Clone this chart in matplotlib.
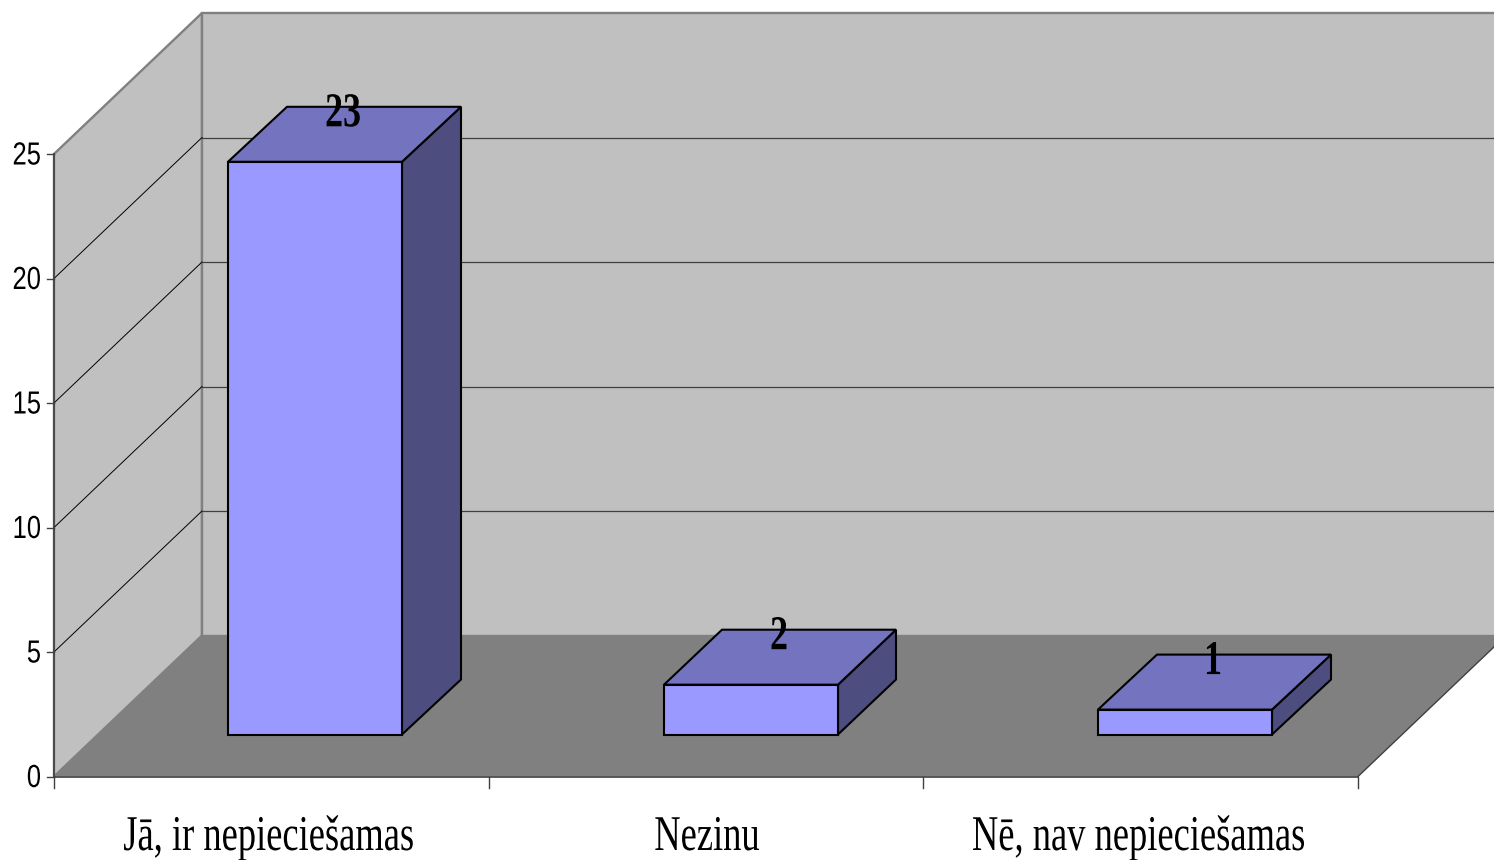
import matplotlib
matplotlib.use('Agg')
import matplotlib.pyplot as plt
from matplotlib.patches import Polygon
from matplotlib.patheffects import AbstractPathEffect
from matplotlib.transforms import Affine2D

categories = ['Jā, ir nepieciešamas', 'Nezinu', 'Nē, nav nepieciešamas']
values = [23, 2, 1]
y_ticks = [0, 5, 10, 15, 20, 25]

W, H = 1494, 860
X0, X1 = 54, 1358      # front edge of the floor
Y0 = 776.5             # value 0 at the front
UNIT = 24.9            # pixels per value unit
DX, DY = 148, 141      # depth of the box
BAR_W = 174
BAR_DX = [59, 58, 59]
BAR_DY = 55
BAR_LEFT = [228, 664, 1098]
BAR_BASE = 734.5


class Squeeze(AbstractPathEffect):
    # the reference text is condensed, squeeze glyphs around a centre x
    def __init__(self, cx, sx):
        super().__init__()
        self.cx = cx
        self.sx = sx

    def draw_path(self, renderer, gc, tpath, affine, rgbFace=None):
        tr = affine + Affine2D().translate(-self.cx, 0).scale(self.sx, 1).translate(self.cx, 0)
        renderer.draw_path(gc, tpath, tr, rgbFace)


def val_y(v):
    return Y0 - v * UNIT


def poly(ax, pts, face, edge='none', lw=1.5, z=1):
    ax.add_patch(Polygon(pts, closed=True, facecolor=face, edgecolor=edge,
                         linewidth=lw, zorder=z, joinstyle='miter'))


fig = plt.figure(figsize=(W / 100, H / 100), dpi=100)
ax = fig.add_axes([0, 0, 1, 1])
ax.set_xlim(0, W)
ax.set_ylim(H, 0)
ax.axis('off')

top = val_y(25)
gray = '#c0c0c0'
wall_edge = '#808080'
axis_col = '#404040'

# walls and floor
poly(ax, [(X0, Y0), (X0 + DX, Y0 - DY), (X0 + DX, top - DY), (X0, top)], gray, wall_edge, 1.7)
poly(ax, [(X0 + DX, Y0 - DY), (X1 + DX, Y0 - DY), (X1 + DX, top - DY), (X0 + DX, top - DY)], gray, wall_edge, 1.7)
poly(ax, [(X0, Y0), (X0 + DX, Y0 - DY), (X1 + DX, Y0 - DY), (X1, Y0)], '#808080', z=2)

# gridlines
for t in y_ticks[1:-1]:
    y = val_y(t)
    ax.plot([X0, X0 + DX], [y, y - DY], color='black', lw=0.7, zorder=3)
    ax.plot([X0 + DX, X1 + DX], [y - DY, y - DY], color='#404040', lw=0.9, zorder=3)

# axes
ax.plot([X0, X0], [top, Y0], color=axis_col, lw=1.2, zorder=4)
ax.plot([X0, X1], [Y0, Y0], color=axis_col, lw=1.2, zorder=4)
ax.plot([X1, X1 + DX], [Y0, Y0 - DY], color=axis_col, lw=1.0, zorder=4)
for t in y_ticks:
    ax.plot([X0 - 7, X0], [val_y(t), val_y(t)], color=axis_col, lw=1.0, zorder=4)
    ax.text(41, val_y(t) + 10.5, str(t), ha='right', va='baseline', fontsize=23,
            family='Liberation Sans', color='black', path_effects=[Squeeze(41, 0.8)])
for i in range(4):
    x = X0 + (X1 - X0) * i / 3
    ax.plot([x, x], [Y0, Y0 + 11], color=axis_col, lw=1.0, zorder=4)

# bars
label_x = [268.5, 707, 1138.5]
for left, v, name, lx, bdx in zip(BAR_LEFT, values, categories, label_x, BAR_DX):
    right = left + BAR_W
    ytop = BAR_BASE - v * UNIT
    poly(ax, [(right, BAR_BASE), (right + bdx, BAR_BASE - BAR_DY),
              (right + bdx, ytop - BAR_DY), (right, ytop)], '#4d4d80', 'black', z=5)
    poly(ax, [(left, ytop), (left + bdx, ytop - BAR_DY),
              (right + bdx, ytop - BAR_DY), (right, ytop)], '#7373bf', 'black', z=5)
    poly(ax, [(left, BAR_BASE), (left, ytop), (right, ytop), (right, BAR_BASE)], '#9999ff', 'black', z=6)
    cx = left + 115
    ax.text(cx, ytop - 35.5, str(v), ha='center', va='baseline', fontsize=35,
            fontweight='bold', family='Liberation Serif', color='black', zorder=7,
            path_effects=[Squeeze(cx, 0.74)])
    ax.text(lx, 850, name, ha='center', va='baseline', fontsize=36,
            family='Liberation Serif', color='black', path_effects=[Squeeze(lx, 0.73)])

fig.savefig('out.png', dpi=100)
